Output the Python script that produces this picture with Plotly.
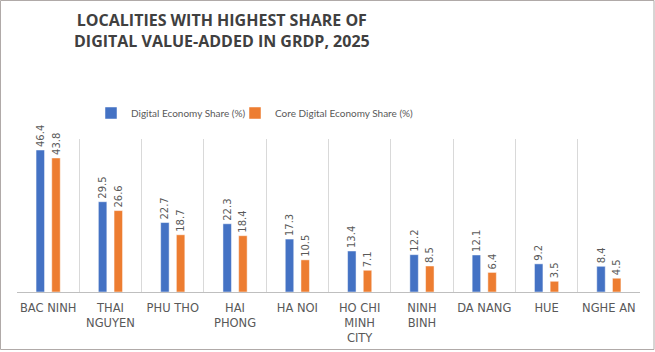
import plotly.graph_objects as go

categories = ["BAC NINH", "THAI<br>NGUYEN", "PHU THO", "HAI<br>PHONG", "HA NOI",
              "HO CHI<br>MINH<br>CITY", "NINH<br>BINH", "DA NANG", "HUE", "NGHE AN"]
digital = [46.4, 29.5, 22.7, 22.3, 17.3, 13.4, 12.2, 12.1, 9.2, 8.4]
core = [43.8, 26.6, 18.7, 18.4, 10.5, 7.1, 8.5, 6.4, 3.5, 4.5]
series_names = ["Digital Economy Share (%)", "Core Digital Economy Share (%)"]
title_text = "LOCALITIES WITH HIGHEST SHARE OF<br>DIGITAL VALUE-ADDED IN GRDP, 2025"

W, H = 655, 352
L, R, T, B = 17, 15, 139, 60
pw, ph = W - L - R, H - T - B

def px_x(p):
    return (p - L) / pw

def px_y(p):
    return (H - B - p) / ph

fig = go.Figure()
for i, (name, vals, col) in enumerate([(series_names[0], digital, "#4472C4"),
                                       (series_names[1], core, "#ED7D31")]):
    fig.add_trace(go.Bar(
        x=categories, y=vals, name=name,
        legend="legend" if i == 0 else "legend2",
        marker=dict(color=col, line=dict(color="rgba(255,255,255,0.6)", width=0.8)),
        text=[f"{v:.1f}" for v in vals], textposition="outside", textangle=-90,
        textfont=dict(family="DejaVu Sans", size=10, color="#595959"),
        cliponaxis=False,
    ))

leg_common = dict(orientation="h", yanchor="middle", y=px_y(113), xanchor="left",
                  font=dict(family="Lato", size=10, color="#595959"),
                  itemwidth=30, bgcolor="rgba(0,0,0,0)")

fig.update_layout(
    width=W, height=H,
    margin=dict(l=L, r=R, t=T, b=B),
    paper_bgcolor="white", plot_bgcolor="white",
    barmode="group", bargap=0.496, bargroupgap=0.46,
    showlegend=True,
    legend=dict(leg_common, x=px_x(91)),
    legend2=dict(leg_common, x=px_x(235)),
    uniformtext=dict(minsize=8, mode="show"),
    xaxis=dict(tickson="boundaries", showgrid=True, gridcolor="#d9d9d9", gridwidth=1,
               showline=True, linecolor="#bfbfbf", linewidth=1, ticks="",
               tickangle=0, automargin=False,
               tickfont=dict(family="DejaVu Sans", size=11.5, color="#595959"),
               ticklabelstandoff=5, fixedrange=True),
    yaxis=dict(range=[0, 50], visible=False, showgrid=False, fixedrange=True),
    annotations=[dict(
        text=title_text, xref="paper", yref="paper",
        x=px_x(222), y=px_y(30), xanchor="center", yanchor="middle",
        showarrow=False, align="center",
        font=dict(family="Open Sans", size=16, color="#404040", weight="bold"),
    )],
    shapes=[dict(type="rect", xref="paper", yref="paper",
                 x0=px_x(0.5), x1=px_x(654), y0=px_y(349.5), y1=px_y(0.5),
                 line=dict(color="#b0aaa8", width=1), fillcolor="rgba(0,0,0,0)", layer="below")],
)

fig.write_html("out.html")
